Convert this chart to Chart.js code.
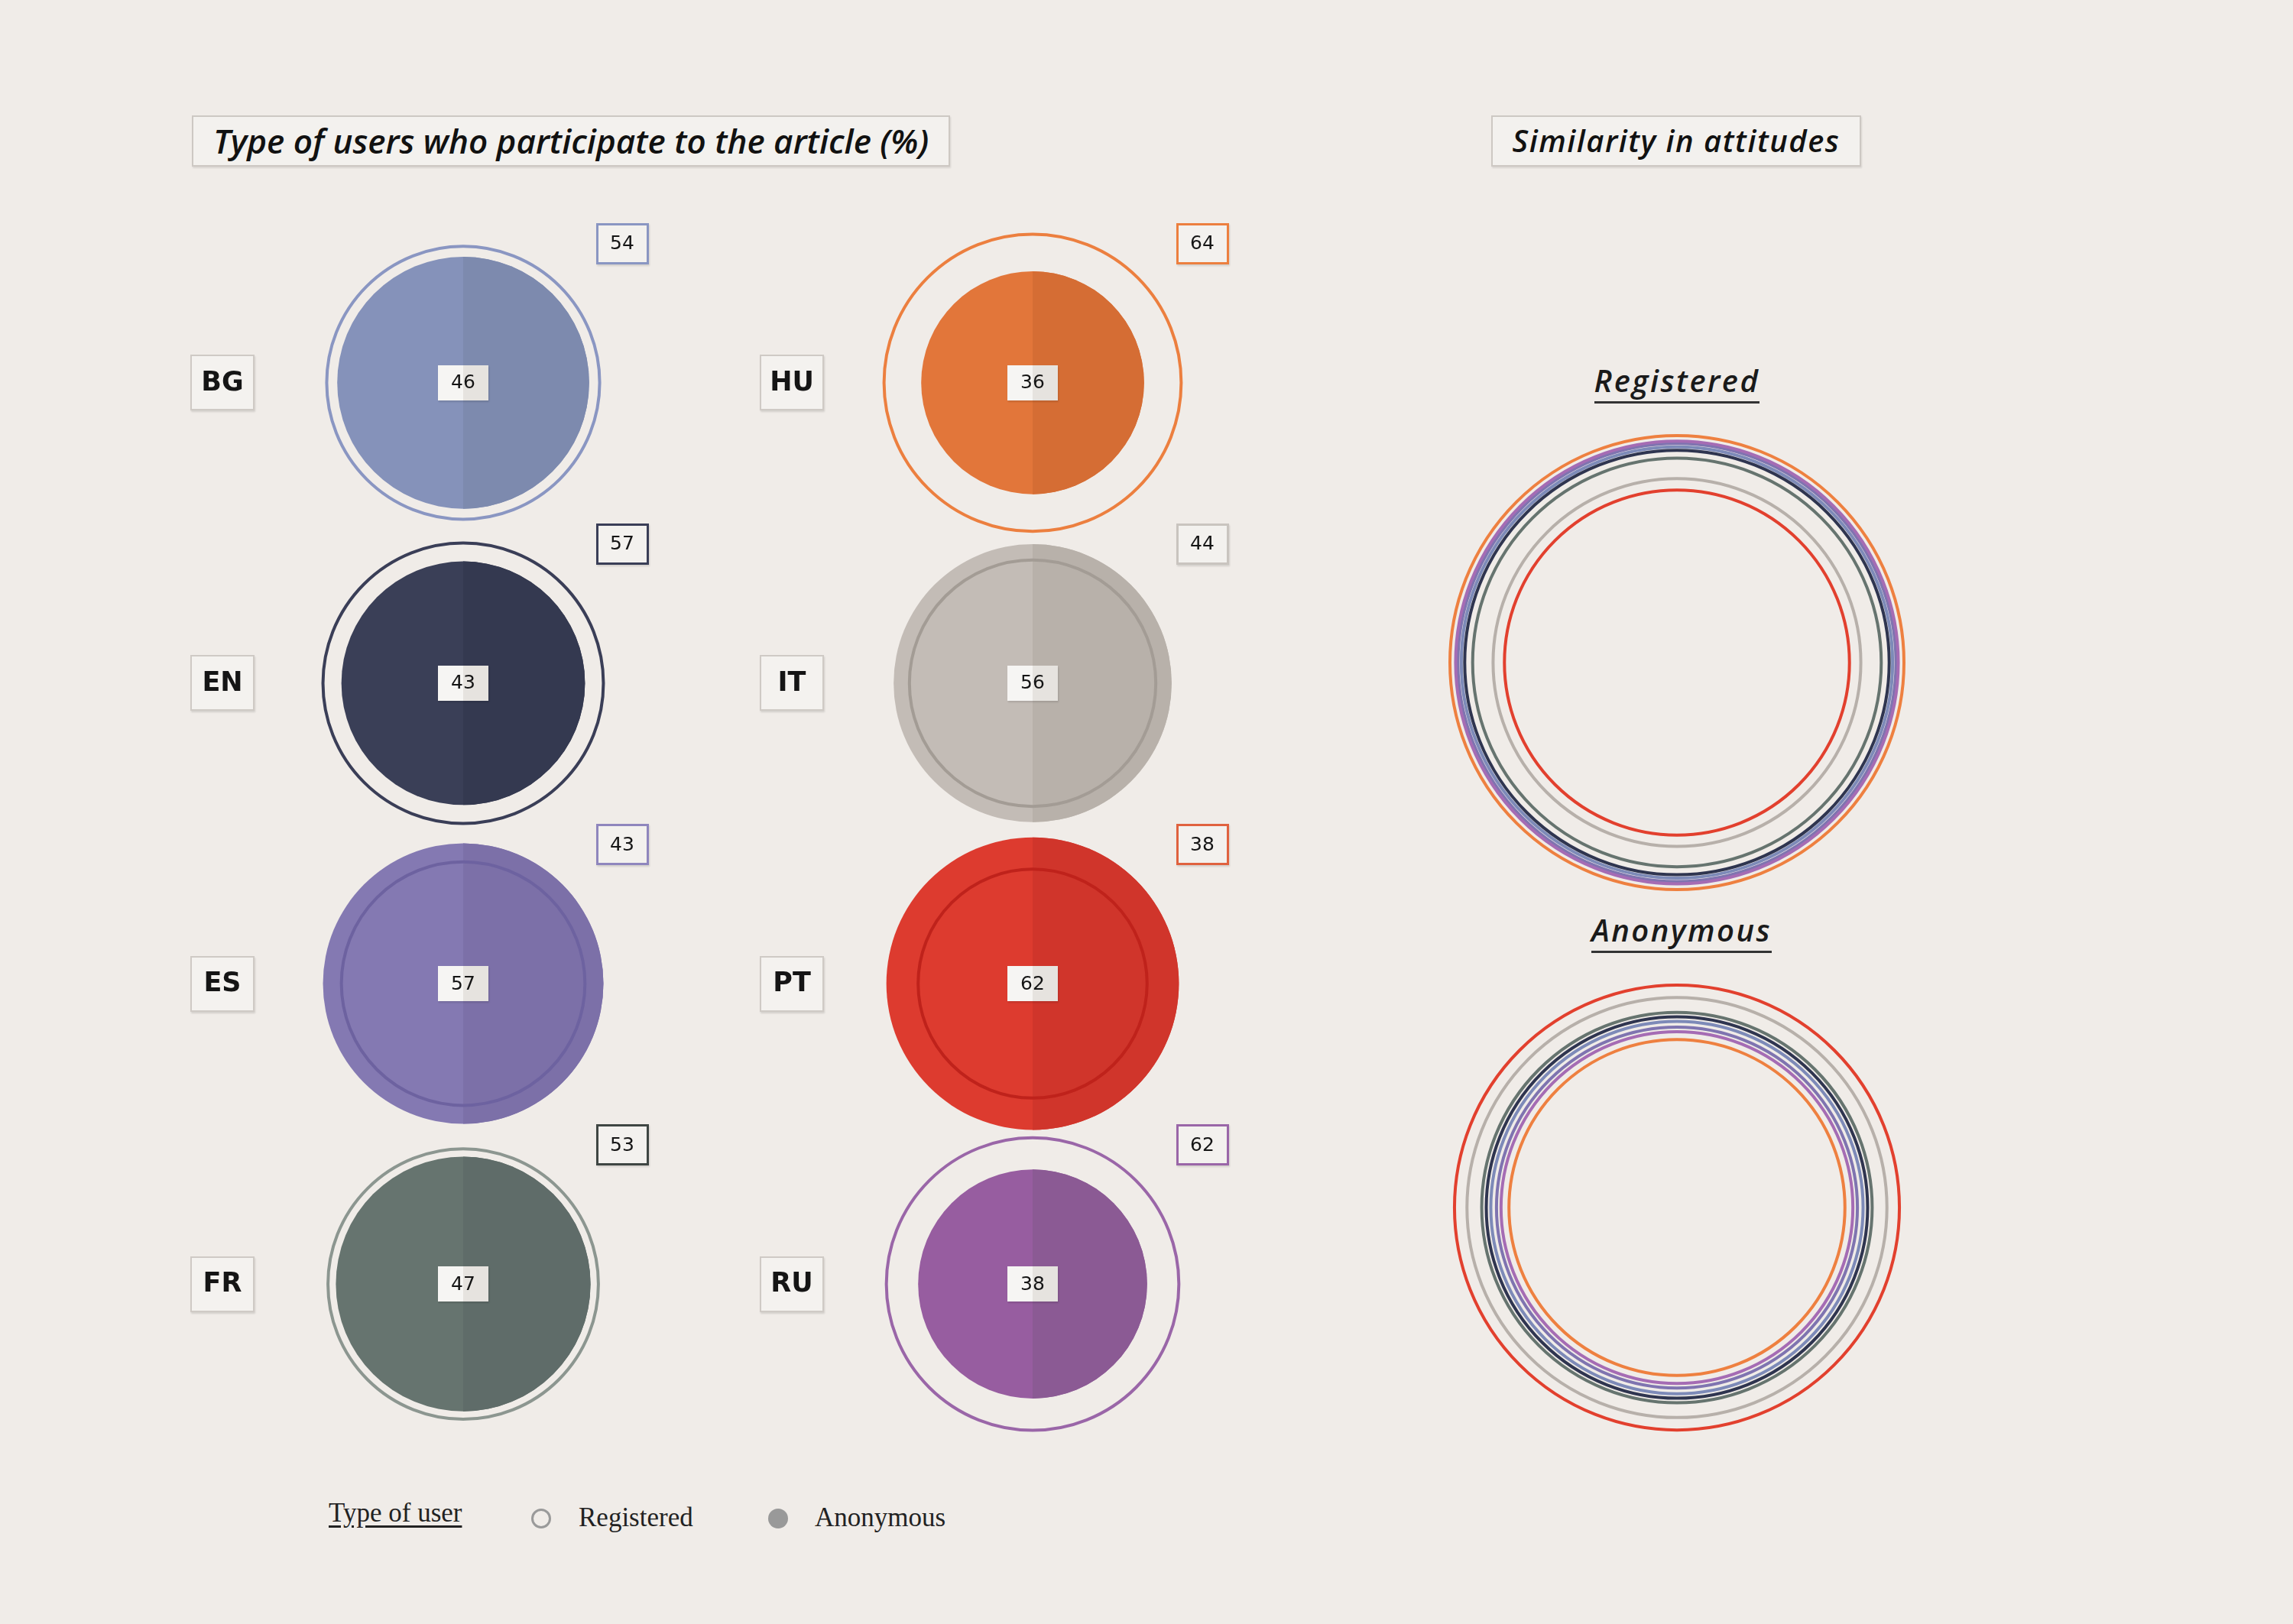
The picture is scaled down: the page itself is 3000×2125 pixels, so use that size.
<!DOCTYPE html>
<html>
<head>
<meta charset="utf-8">
<script src="https://cdn.jsdelivr.net/npm/chart.js@4.4.1/dist/chart.umd.min.js"></script>
<style>
  body { margin: 0; width: 3000px; height: 2125px; background: #f0ece8; position: relative; overflow: hidden; font-family: "Open Sans", sans-serif; }
  .title { position: absolute; height: 67px; box-sizing: border-box; border: 2px solid #cdc8c3; background: #f3f1ee;
           box-shadow: 1px 2px 2px rgba(0,0,0,0.10); font-style: italic; font-weight: 600; line-height: 62px; color: #111; white-space: nowrap; }
  #t1 { left: 251px; top: 151px; width: 992px; padding-left: 26px; font-size: 44px; }
  #t2 { left: 1951px; top: 151px; width: 484px; text-align: center; letter-spacing: 1.5px; font-size: 40px; }
  .sub { position: absolute; width: 400px; text-align: center; font-style: italic; font-weight: 600; font-size: 40px; color: #1a1a1a; letter-spacing: 2.5px; }
  .sub span { border-bottom: 3px solid #333; }
  #s1 { left: 1994px; top: 470px; }
  #s2 { left: 2000px; top: 1189px; }
  #legend { position: absolute; left: 430px; top: 1960px; font-family: "Liberation Serif", serif; font-size: 35px; color: #222; }
  #legend .head { position: absolute; left: 0; top: 0; white-space: nowrap; text-decoration: underline; text-underline-offset: 5px; }
  #legend .dot { position: absolute; top: 14px; width: 26px; height: 26px; border-radius: 50%; box-sizing: border-box; }
  #legend .txt { position: absolute; top: 6px; white-space: nowrap; }
  #leftBox { position: absolute; left: 159px; top: 206px; }
  #rightBox { position: absolute; left: 1800px; top: 439px; }
</style>
</head>
<body>
<div class="title" id="t1">Type of users who participate to the article (%)</div>
<div class="title" id="t2">Similarity in attitudes</div>
<div class="sub" id="s1"><span>Registered</span></div>
<div class="sub" id="s2"><span>Anonymous</span></div>
<div id="legend">
  <div class="head">Type of user</div>
  <div class="dot" style="left:265px; border:3px solid #9a9a9a;"></div>
  <div class="txt" style="left:327px;">Registered</div>
  <div class="dot" style="left:575px; background:#999;"></div>
  <div class="txt" style="left:636px;">Anonymous</div>
</div>
<div id="leftBox"><canvas id="userChart" width="1639" height="1769"></canvas></div>
<div id="rightBox"><canvas id="simChart" width="788" height="1569"></canvas></div>

<script>
// --- DATA ---
const countries = ["BG", "EN", "ES", "FR", "HU", "IT", "PT", "RU"];
const registered = [54, 57, 43, 53, 64, 44, 38, 62];
const anonymous = [46, 43, 57, 47, 36, 56, 62, 38];
const gridCol = [0, 0, 0, 0, 1, 1, 1, 1];
const gridRow = [0, 1, 2, 3, 0, 1, 2, 3];

// similarity index per country, one ring each
const simRegistered = [95, 93.5, 96.5, 90, 100, 81, 76, 97.5];
const simAnonymous = [82, 84, 79.5, 86, 74, 92.5, 98, 77.5];

// --- STYLE ---
const fillLeft  = ["#8592ba", "#3a3f57", "#8479b2", "#66746f", "#e2763a", "#c3bcb6", "#dd3b2f", "#975da0"];
const fillRight = ["#7d8aae", "#343950", "#7c70a8", "#5f6c69", "#d56d34", "#b8b1aa", "#d0352b", "#8b5a94"];
const ringColor = ["#8a96c2", "#3a3e57", "#6d62a0", "#8c9690", "#ec7f3f", "#a39c95", "#bf221b", "#9a66a8"];
const boxBorder = ["#8a96c2", "#3a3e57", "#8f86bd", "#3f4643", "#ec7f3f", "#c9c4bf", "#e0623f", "#9a66a8"];
const simColor  = ["#7d8ab8", "#2f3550", "#7f74b0", "#66746f", "#ee8040", "#b7b0aa", "#e2402e", "#a56cb4"];

const RADIUS_K = 24.3;   // px per sqrt(percent) -> circle area follows the value
const RING_K = 2.97;     // px per similarity point

function drawBox(ctx, cx, cy, w, h, fill, border, lw, text, font, split) {
    const x = Math.round(cx - w / 2), y = Math.round(cy - h / 2);
    ctx.save();
    ctx.shadowColor = "rgba(0,0,0,0.12)";
    ctx.shadowOffsetX = 1;
    ctx.shadowOffsetY = 2;
    ctx.shadowBlur = 2;
    ctx.fillStyle = fill;
    ctx.fillRect(x, y, w, h);
    ctx.restore();
    if (split) {
        ctx.fillStyle = split;
        ctx.fillRect(x + w / 2, y, w / 2, h);
    }
    if (border) {
        ctx.strokeStyle = border;
        ctx.lineWidth = lw;
        ctx.strokeRect(x + lw / 2, y + lw / 2, w - lw, h - lw);
    }
    ctx.fillStyle = "#151515";
    ctx.font = font;
    ctx.textAlign = "center";
    ctx.textBaseline = "middle";
    ctx.fillText(text, cx, cy + 1);
}

const userLabels = {
    id: "userLabels",
    // darker right half of each anonymous disc, under the registered rings
    afterDatasetDraw(chart, args) {
        if (args.index !== 1) return;
        const ctx = chart.ctx;
        args.meta.data.forEach((el, i) => {
            ctx.save();
            ctx.beginPath();
            ctx.arc(el.x, el.y, el.options.radius, -Math.PI / 2, Math.PI / 2);
            ctx.closePath();
            ctx.fillStyle = fillRight[i];
            ctx.fill();
            ctx.restore();
        });
    },
    afterDatasetsDraw(chart) {
        const ctx = chart.ctx;
        chart.getDatasetMeta(1).data.forEach((el, i) => {
            drawBox(ctx, el.x, el.y, 66, 46, "#f6f5f3", null, 0, String(anonymous[i]), "25px 'DejaVu Sans'", "#e6e3df");
            drawBox(ctx, el.x + 208 + 14 * gridCol[i], el.y - 182, 69, 54, "#f3f1ee", boxBorder[i], 3,
                String(registered[i]), "25px 'DejaVu Sans'");
            drawBox(ctx, el.x - 315, el.y, 84, 73, "#f4f2ef", "#cfcac5", 2, countries[i], "bold 35px 'DejaVu Sans'");
        });
    }
};

new Chart(document.getElementById("userChart"), {
    type: "bubble",
    data: {
        datasets: [
            {
                label: "Registered",
                data: registered.map((v, i) => ({ x: gridCol[i], y: gridRow[i], r: Math.sqrt(v) * RADIUS_K })),
                backgroundColor: "rgba(0,0,0,0)",
                borderColor: ringColor,
                borderWidth: 4,
                clip: false
            },
            {
                label: "Anonymous",
                data: anonymous.map((v, i) => ({ x: gridCol[i], y: gridRow[i], r: Math.sqrt(v) * RADIUS_K })),
                backgroundColor: fillLeft,
                borderWidth: 0,
                clip: false
            }
        ]
    },
    options: {
        responsive: false,
        devicePixelRatio: 1,
        animation: false,
        events: [],
        layout: { padding: 0, autoPadding: false },
        plugins: { legend: { display: false }, tooltip: { enabled: false } },
        scales: {
            x: { type: "linear", min: -0.6, max: 1.6, display: false },
            y: { type: "linear", min: -0.75, max: 3.75, reverse: true, display: false }
        }
    },
    plugins: [userLabels]
});

new Chart(document.getElementById("simChart"), {
    type: "bubble",
    data: {
        datasets: [
            {
                label: "Registered",
                data: simRegistered.map(v => ({ x: 0, y: 0, r: v * RING_K })),
                backgroundColor: "rgba(0,0,0,0)",
                borderColor: simColor,
                borderWidth: 4,
                clip: false
            },
            {
                label: "Anonymous",
                data: simAnonymous.map(v => ({ x: 0, y: 1, r: v * RING_K })),
                backgroundColor: "rgba(0,0,0,0)",
                borderColor: simColor,
                borderWidth: 4,
                clip: false
            }
        ]
    },
    options: {
        responsive: false,
        devicePixelRatio: 1,
        animation: false,
        events: [],
        layout: { padding: 0, autoPadding: false },
        plugins: { legend: { display: false }, tooltip: { enabled: false } },
        scales: {
            x: { type: "linear", min: -1, max: 1, display: false },
            y: { type: "linear", min: -0.6, max: 1.6, reverse: true, display: false }
        }
    }
});
</script>
</body>
</html>
